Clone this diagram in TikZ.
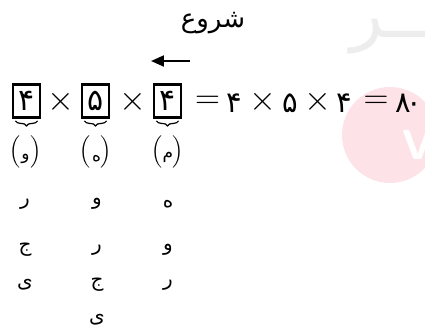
\documentclass[tikz,border=0pt]{standalone}
\usepackage{amsmath}
\usepackage{fontspec}
\usetikzlibrary{arrows.meta,positioning,decorations.pathreplacing}
\TeXXeTstate=1
\newfontfamily\arabicfont[Script=Arabic]{DejaVu Sans}
\definecolor{WmGray}{HTML}{EDEDED}
\definecolor{WmPink}{HTML}{FDE3E8}
\tikzset{
  digitbox/.style={draw,line width=1.4pt,minimum width=13.5pt,minimum height=16.5pt,inner sep=0pt,font=\arabicfont\fontsize{15}{17}\selectfont},
  timesop/.style={inner sep=0pt,font=\fontsize{18}{20}\selectfont},
  equalop/.style={inner sep=0pt,font=\fontsize{16.5}{18}\selectfont},
  plaindigit/.style={inner sep=0pt,font=\arabicfont\fontsize{14.5}{16}\selectfont},
  choicebrace/.style={decorate,decoration={brace,mirror,amplitude=2.5pt},line width=0.6pt},
  choiceparen/.style={inner sep=0pt,font=\fontsize{9.5}{11}\selectfont},
  parenletter/.style={inner sep=0pt,font=\arabicfont\fontsize{8.5}{10}\selectfont},
  letterchoice/.style={inner sep=0pt,font=\arabicfont\fontsize{10}{12}\selectfont},
  startarrow/.style={-{Triangle[length=6.5pt,width=5.5pt]},line width=1pt}
}
\newcommand{\emptyparen}{$\Bigl(\hspace{5pt}\Bigr)$}

\begin{document}
\begin{tikzpicture}[x=0.5pt,y=-0.5pt]
\useasboundingbox (0,0) rectangle (425,328);
% watermark
\fill[WmPink] (390,135) circle (24pt);
\node[text=WmGray,font=\arabicfont\fontsize{34}{36}\selectfont] (wmtext) at (399,37) {\beginR ـــر\endR};
\node[text=white,font=\sffamily\bfseries\fontsize{21}{23}\selectfont] (wmv) at (418,145) {V};
% start
\node[font=\arabicfont\fontsize{13}{15}\selectfont] (start) at (213,23) {\beginR شروع\endR};
\coordinate (arrowtail) at (190,61);
\coordinate (arrowtip) at (151,61);
\draw[startarrow] (arrowtail) -- (arrowtip);
% product of the boxes
\node[digitbox] (b1) at (26.5,101) {۴};
\node[digitbox] (b2) at (95.5,101) {۵};
\node[digitbox] (b3) at (167.5,101) {۴};
\node[timesop] (t1) at (61,102) {$\times$};
\node[timesop] (t2) at (133,102) {$\times$};
% rest of the equation
\node[equalop] (eq1) at (207.5,102) {$=$};
\node[plaindigit] (r1) at (234,103) {۴};
\node[timesop] (t3) at (263,102) {$\times$};
\node[plaindigit] (r2) at (290,103) {۵};
\node[timesop] (t4) at (318,102) {$\times$};
\node[plaindigit] (r3) at (344,103) {۴};
\node[equalop] (eq2) at (376,102) {$=$};
\node[plaindigit] (total) at (409,103) {۸\kern-2.5pt۰};
\foreach \b in {b1,b2,b3}
  \draw[choicebrace] ([xshift=-5.5pt,yshift=-1pt]\b.south) -- ([xshift=5.5pt,yshift=-1pt]\b.south);
\node[choiceparen] (p1) at (25.5,152) {\emptyparen};
\node[choiceparen] (p2) at (96,152) {\emptyparen};
\node[choiceparen] (p3) at (168,152) {\emptyparen};
\node[parenletter] (l1) at (25.5,159) {و};
\node[parenletter] (l2) at (96.5,159) {ه};
\node[parenletter] (l3) at (168,157) {م};
% choices
\node[letterchoice] (c11) at (25,204) {ر};
\node[letterchoice] (c12) at (25,250) {ج};
\node[letterchoice] (c13) at (25,285) {ی};
\node[letterchoice] (c21) at (97,204) {و};
\node[letterchoice] (c22) at (97,250) {ر};
\node[letterchoice] (c23) at (97,285) {ج};
\node[letterchoice] (c24) at (97,320) {ی};
\node[letterchoice] (c31) at (168,204) {ه};
\node[letterchoice] (c32) at (168,250) {و};
\node[letterchoice] (c33) at (168,285) {ر};
\end{tikzpicture}
\end{document}
